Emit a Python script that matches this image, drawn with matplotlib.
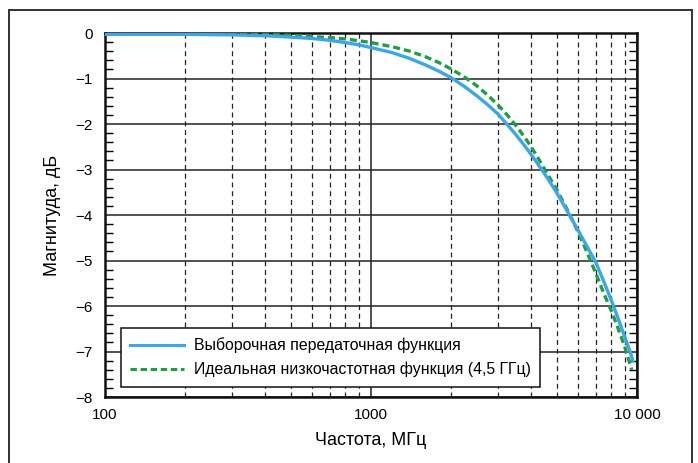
import matplotlib.pyplot as plt
import matplotlib.patches as mpatches
from matplotlib.ticker import FixedLocator, FixedFormatter, MultipleLocator, NullFormatter

plt.rcParams['font.family'] = ['Liberation Sans', 'DejaVu Sans']

# Выборочная передаточная функция (МГц, дБ)
freq_sample = [100, 150, 200, 300, 400, 500, 600, 700, 800, 900, 1000, 1200, 1400, 1600,
               1800, 2000, 2250, 2500, 2750, 3000, 3250, 3500, 3750, 4000, 4250, 4500,
               4750, 5000, 5500, 6000, 6500, 7000, 7500, 8000, 8500, 9000, 9500, 9650]
mag_sample = [-0.03, -0.03, -0.03, -0.04, -0.06, -0.09, -0.12, -0.16, -0.21, -0.26, -0.32,
              -0.43, -0.56, -0.70, -0.84, -0.98, -1.18, -1.38, -1.58, -1.78, -2.01, -2.23,
              -2.45, -2.67, -2.89, -3.1, -3.31, -3.52, -3.94, -4.33, -4.70, -5.04, -5.46,
              -5.87, -6.28, -6.68, -7.07, -7.21]

# Идеальная низкочастотная функция 4,5 ГГц
freq_ideal = [200, 300, 400, 500, 600, 700, 800, 900, 1000, 1200, 1400, 1600, 1800, 2000,
              2250, 2500, 2750, 3000, 3250, 3500, 3750, 4000, 4250, 4500, 4750, 5000,
              5500, 6000, 6500, 7000, 7500, 8000, 8500, 9000, 9550]
mag_ideal = [-0.01, -0.02, -0.03, -0.05, -0.08, -0.10, -0.13, -0.17, -0.21, -0.30, -0.40,
             -0.52, -0.65, -0.79, -0.97, -1.16, -1.37, -1.58, -1.80, -2.03, -2.26, -2.5,
             -2.75, -3.0, -3.23, -3.45, -3.91, -4.37, -4.83, -5.28, -5.72, -6.1, -6.5,
             -6.9, -7.4]

x_ticks = [100, 1000, 10000]
x_tick_labels = ['100', '1000', '10 000']
y_ticks = [0, -1, -2, -3, -4, -5, -6, -7, -8]
y_tick_labels = ['0', '\u22121', '\u22122', '\u22123', '\u22124', '\u22125', '\u22126', '\u22127', '\u22128']

fig = plt.figure(figsize=(6.98, 4.63), dpi=100)
ax = fig.add_axes([0.1504, 0.1425, 0.7622, 0.7862])

# рамка вокруг всего рисунка
frame = mpatches.Rectangle((9 / 698, -0.05), 683 / 698, 1.05 - 10 / 463,
                           transform=fig.transFigure, fill=False,
                           edgecolor='#333333', linewidth=1.4)
fig.patches.append(frame)

ax.plot(freq_sample, mag_sample, color='#3DA6E6', linewidth=2.4, zorder=4,
        label='Выборочная передаточная функция')
ax.plot(freq_ideal, mag_ideal, color='#1F9E45', linewidth=2.4, zorder=3,
        linestyle=(0, (2.1, 1.2)), label='Идеальная низкочастотная функция (4,5 ГГц)')

ax.set_xscale('log')
ax.set_xlim(100, 10000)
ax.set_ylim(-8, 0)

ax.xaxis.set_major_locator(FixedLocator(x_ticks))
ax.xaxis.set_major_formatter(FixedFormatter(x_tick_labels))
ax.xaxis.set_minor_locator(FixedLocator([m * d for d in (100, 1000) for m in range(2, 10)]))
ax.xaxis.set_minor_formatter(NullFormatter())
ax.yaxis.set_major_locator(FixedLocator(y_ticks))
ax.yaxis.set_major_formatter(FixedFormatter(y_tick_labels))
ax.yaxis.set_minor_locator(MultipleLocator(0.2))

ax.tick_params(axis='x', which='both', length=0, pad=8, labelsize=11)
ax.tick_params(axis='y', which='major', length=0, pad=9, labelsize=11)
ax.tick_params(axis='y', which='minor', direction='in', length=6, width=1,
               left=True, right=True)

ax.grid(True, axis='y', which='major', color='#222222', linewidth=1.1, linestyle='-')
ax.grid(True, axis='x', which='major', color='#222222', linewidth=1.1, linestyle='-')
ax.grid(True, axis='x', which='minor', color='#222222', linewidth=0.9,
        linestyle=(0, (4, 3)))
ax.set_axisbelow(True)

for s in ax.spines.values():
    s.set_linewidth(1.8)
    s.set_color('#111111')

ax.set_xlabel('Частота, МГц', fontsize=13, labelpad=7)
ax.set_ylabel('Магнитуда, дБ', fontsize=13, labelpad=10)

leg = ax.legend(loc='lower left', bbox_to_anchor=(0.03, 0.028), fontsize=11.4,
                frameon=True, fancybox=False, framealpha=1, edgecolor='#111111',
                handlelength=3.4, handletextpad=0.6, borderpad=0.6,
                labelspacing=0.55, borderaxespad=0)
leg.get_frame().set_linewidth(1.1)
leg.set_zorder(10)
for line in leg.get_lines():
    line.set_linewidth(2.2)

fig.savefig('out.png', dpi=100)
